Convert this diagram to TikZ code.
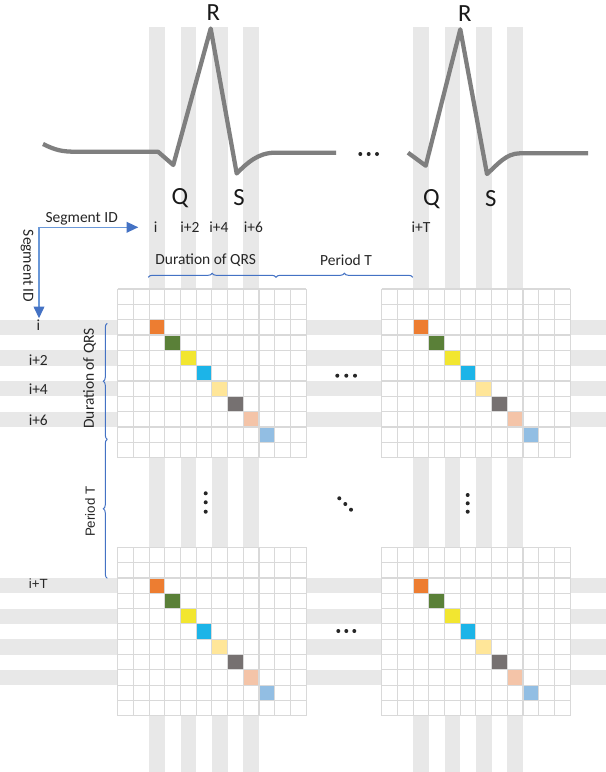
\documentclass[tikz,border=0pt]{standalone}
\usepackage{fontspec}
\setmainfont{Carlito}
\newfontfamily\arialf{Liberation Sans}
\usetikzlibrary{arrows.meta,decorations.pathreplacing,calc}
\definecolor{bargray}{HTML}{E8E8E8}
\definecolor{gridgray}{HTML}{D9D9D9}
\definecolor{ecg}{HTML}{7F7F7F}
\definecolor{brblue}{HTML}{4472C4}
\definecolor{arrline}{HTML}{6A98D8}
\definecolor{cA}{HTML}{ED7D31}
\definecolor{cB}{HTML}{5A8038}
\definecolor{cC}{HTML}{F2E630}
\definecolor{cD}{HTML}{1CB4E8}
\definecolor{cE}{HTML}{FFE699}
\definecolor{cF}{HTML}{767171}
\definecolor{cG}{HTML}{F4C4A8}
\definecolor{cH}{HTML}{92BEE3}
\newcommand\ecggrid[2]{%
  \fill[white] (#1,#2) rectangle ++(188.4,168.63);
  \foreach \k/\c in {2/cA,3/cB,4/cC,5/cD,6/cE,7/cF,8/cG,9/cH}
    \fill[\c] ({#1+\k*15.7},{#2+\k*15.33}) rectangle ++(15.7,15.33);
  \foreach \i in {0,...,12}
    \draw[gridline] ({#1+\i*15.7},#2) -- ++(0,168.63);
  \foreach \j in {0,...,11}
    \draw[gridline] (#1,{#2+\j*15.33}) -- ++(188.4,0);
}
\begin{document}
\begin{tikzpicture}[x=0.75pt,y=-0.75pt,
  gridline/.style={draw=gridgray, line width=0.8pt},
  lbl/.style={font=\fontsize{11.6}{13}\selectfont, inner sep=0pt, text=black!85},
  big/.style={font=\fontsize{18.5}{20}\selectfont, inner sep=0pt, text=black!90},
  alb/.style={font=\arialf\fontsize{10}{12}\selectfont, inner sep=0pt, text=black!85},
  bracestyle/.style={draw=brblue, line width=0.75pt, decorate, decoration={brace, amplitude=3pt}},
  ecgline/.style={draw=ecg, line width=3.2pt, line join=round},
  dotty/.style={fill=black!85}
]
\useasboundingbox (0,0) rectangle (606,772);
\fill[white] (0,0) rectangle (606,772);
% background bars
\foreach \x in {149.1,180.5,211.9,243.3,413.1,444.5,475.9,507.3}
  \fill[bargray] (\x,26.7) rectangle ++(15.7,745.3);
\foreach \y in {319.66,350.32,380.98,411.64,577.96,608.62,639.28,669.94}
  \fill[bargray] (0,\y) rectangle ++(606,15.33);
% ECG
\draw[ecgline] (43,144) .. controls (55,150) and (62,151.7) .. (75,151.7) -- (158,151.7) -- (173.3,165) -- (210.7,28.5) -- (236.7,173.5) .. controls (247,163) and (258,152.7) .. (275,152.7) -- (336,152.7);
\draw[ecgline] (408,152.7) -- (425.7,165.7) -- (460.3,29.3) -- (487,174) .. controls (497,165) and (506,153.3) .. (520,153.3) -- (588,153.3);
\foreach \x in {360.3,368.7,377} \fill[dotty] (\x,154) circle[radius=1.5pt];
% grids
\ecggrid{117.7}{289}
\ecggrid{381.7}{289}
\ecggrid{117.7}{547.3}
\ecggrid{381.7}{547.3}
% dots between grids
\foreach \x in {337.3,346.3,355} \fill[dotty] (\x,375.7) circle[radius=1.5pt];
\foreach \x in {338.3,346.3,354.3} \fill[dotty] (\x,631) circle[radius=1.5pt];
\foreach \y in {493.3,502.3,511.7} \fill[dotty] (205.7,\y) circle[radius=1.5pt];
\foreach \y in {495,503.3,511.7} \fill[dotty] (467.7,\y) circle[radius=1.5pt];
\foreach \x/\y in {339.3/498.3,345.3/504,351/509.7} \fill[dotty] (\x,\y) circle[radius=1.5pt];
% ECG labels
\node[big, anchor=base] (R1) at (213.3,20.7) {R};
\node[big, anchor=base] (Q1) at (180,204) {Q};
\node[big, anchor=base] (S1) at (239,205) {S};
\node[big, anchor=base] (R2) at (464.7,21.7) {R};
\node[big, anchor=base] (Q2) at (431.3,205) {Q};
\node[big, anchor=base] (S2) at (490.7,206.5) {S};
% column labels
\node[lbl, anchor=base] (ci) at (155.7,232.3) {i};
\node[lbl, anchor=base] (ci2) at (190,232.3) {i+2};
\node[lbl, anchor=base] (ci4) at (219,232.3) {i+4};
\node[lbl, anchor=base] (ci6) at (253.3,232.3) {i+6};
\node[lbl, anchor=base] (ciT) at (421,232) {i+T};
% row labels
\node[lbl, anchor=base] (ri) at (38.3,330.7) {i};
\node[lbl, anchor=base] (ri2) at (38.3,365.7) {i+2};
\node[lbl, anchor=base] (ri4) at (38.3,394.3) {i+4};
\node[lbl, anchor=base] (ri6) at (38.3,425) {i+6};
\node[alb, anchor=base] (riT) at (38.3,588.3) {i+T};
% segment ID arrows
\node[lbl, anchor=base] (segh) at (81.7,222.5) {Segment ID};
\node[lbl, rotate=-90] (segv) at (27,266) {Segment ID};
\coordinate (corner) at (39,227.3);
\coordinate (hx) at (138.3,227.3);
\coordinate (vy) at (39,318.3);
\draw[arrline, line width=1.2pt, -{Triangle[length=8.8pt,width=8pt,color=brblue]}] (corner) -- (hx);
\draw[arrline, line width=1.2pt, -{Triangle[length=8.8pt,width=8pt,color=brblue]}] (corner) -- (vy);
% braces
\draw[bracestyle] (148.3,277.3) -- (276,277.3);
\draw[bracestyle] (276,277.3) -- (412.7,277.3);
\node[lbl, anchor=base] (durh) at (205.7,264) {Duration of QRS};
\node[lbl, anchor=base] (perh) at (346,265) {Period T};
\draw[bracestyle] (107.3,439.3) -- (107.3,323.3);
\draw[bracestyle] (107.3,578.3) -- (107.3,439.3);
\node[lbl, rotate=90] (durv) at (89.5,378.3) {Duration of QRS};
\node[alb, rotate=90] (perv) at (90,511.7) {Period T};
\end{tikzpicture}
\end{document}
